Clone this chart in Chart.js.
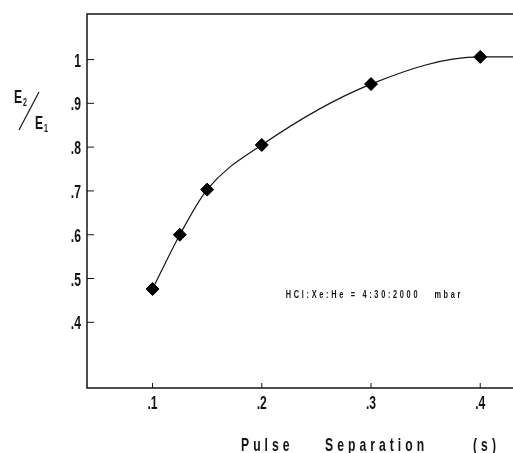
<!DOCTYPE html>
<html>
<head>
<meta charset="utf-8">
<script src="https://cdn.jsdelivr.net/npm/chart.js@4"></script>
<style>
  html, body { margin: 0; padding: 0; background: #fff; }
  #wrap { width: 513px; height: 453px; }
</style>
</head>
<body>
<div id="wrap"><canvas id="chart"></canvas></div>
<script>
// measured points (pulse separation in s, E2/E1)
const separation = [0.1, 0.125, 0.15, 0.2, 0.3, 0.4];
const energyRatio = [0.476, 0.6, 0.703, 0.805, 0.944, 1.006];
// fitted curve levels off after the last point
const curveX = [0.1, 0.125, 0.15, 0.2, 0.3, 0.4, 0.43];
const curveY = [0.476, 0.6, 0.703, 0.805, 0.944, 1.006, 1.006];

const xTicks = [0.1, 0.2, 0.3, 0.4];
const xTickLabels = [".1", ".2", ".3", ".4"];
const yTicks = [0.4, 0.5, 0.6, 0.7, 0.8, 0.9, 1.0];
const yTickLabels = [".4", ".5", ".6", ".7", ".8", ".9", "1"];

const xTitleWords = ["Pulse", "Separation", "(s)"];
const note = "HCl:Xe:He = 4:30:2000   mbar";

const INK = "#141414";

// condensed look: bold Liberation Sans squeezed horizontally
function narrowText(ctx, text, x, y, size, align, spacing) {
  ctx.save();
  ctx.translate(x, y);
  ctx.scale(0.64, 1);
  ctx.font = 'bold ' + size + 'px "Liberation Sans", Arial, sans-serif';
  ctx.letterSpacing = (spacing || 0) + "px";
  ctx.textAlign = align || "left";
  ctx.textBaseline = "alphabetic";
  ctx.fillStyle = INK;
  ctx.fillText(text, 0, 0);
  ctx.restore();
}

const frameAndLabels = {
  id: "frameAndLabels",
  afterDraw(chart) {
    const { ctx, chartArea: a, scales } = chart;
    const xs = scales.x, ys = scales.y;
    ctx.save();
    ctx.strokeStyle = INK;
    ctx.lineWidth = 1.5;
    // frame: top, left, bottom (right edge runs off the picture)
    ctx.beginPath();
    ctx.moveTo(chart.width, a.top);
    ctx.lineTo(a.left, a.top);
    ctx.lineTo(a.left, a.bottom);
    ctx.lineTo(chart.width, a.bottom);
    ctx.stroke();

    // inward tick marks
    ctx.lineWidth = 1;
    ctx.beginPath();
    ys.ticks.forEach(t => {
      const y = ys.getPixelForValue(t.value);
      ctx.moveTo(a.left, y);
      ctx.lineTo(a.left + 7, y);
    });
    xs.ticks.forEach(t => {
      const x = xs.getPixelForValue(t.value);
      ctx.moveTo(x, a.bottom);
      ctx.lineTo(x, a.bottom - 5);
    });
    ctx.stroke();

    // tick labels
    ys.ticks.forEach((t, i) => {
      narrowText(ctx, yTickLabels[i], a.left - 6, ys.getPixelForValue(t.value) + 7, 19, "right");
    });
    xs.ticks.forEach((t, i) => {
      narrowText(ctx, xTickLabels[i], xs.getPixelForValue(t.value), a.bottom + 21, 19, "center");
    });

    // x axis title, letter spaced
    const wordX = [241, 325, 473];
    xTitleWords.forEach((w, i) => narrowText(ctx, w, wordX[i], 451, 19, "left", 6.3));

    // y axis label E2 / E1
    narrowText(ctx, "E", 14, 103, 19);
    narrowText(ctx, "2", 23, 106, 11);
    narrowText(ctx, "E", 35, 129, 19);
    narrowText(ctx, "1", 44, 132, 11);
    ctx.lineWidth = 1.2;
    ctx.beginPath();
    ctx.moveTo(19, 130);
    ctx.lineTo(39, 92);
    ctx.stroke();

    // gas mixture note
    narrowText(ctx, note, xs.getPixelForValue(0.222), ys.getPixelForValue(0.456), 11.5, "left", 4.2);
    ctx.restore();
  }
};

new Chart(document.getElementById("chart"), {
  type: "scatter",
  data: {
    datasets: [
      {
        type: "line",
        data: curveX.map((x, i) => ({ x, y: curveY[i] })),
        borderColor: INK,
        borderWidth: 1.2,
        pointRadius: 0,
        fill: false,
        cubicInterpolationMode: "monotone",
        order: 2
      },
      {
        data: separation.map((x, i) => ({ x, y: energyRatio[i] })),
        pointStyle: "rectRot",
        pointRadius: 6.5,
        backgroundColor: "#000",
        borderColor: "#000",
        borderWidth: 1,
        order: 1
      }
    ]
  },
  options: {
    responsive: true,
    maintainAspectRatio: false,
    animation: false,
    events: [],
    layout: { autoPadding: false, padding: { top: 14, right: 0, left: 0, bottom: 0 } },
    plugins: { legend: { display: false }, tooltip: { enabled: false } },
    scales: {
      x: {
        type: "linear",
        min: 0.04,
        max: 0.43,
        afterBuildTicks: s => { s.ticks = xTicks.map(v => ({ value: v })); },
        afterFit: s => { s.height = 65; s.paddingLeft = 0; s.paddingRight = 0; },
        grid: { display: false, drawTicks: false },
        border: { display: false },
        ticks: { display: false }
      },
      y: {
        type: "linear",
        min: 0.25,
        max: 1.104,
        afterBuildTicks: s => { s.ticks = yTicks.map(v => ({ value: v })); },
        afterFit: s => { s.width = 87; s.paddingTop = 0; s.paddingBottom = 0; },
        grid: { display: false, drawTicks: false },
        border: { display: false },
        ticks: { display: false }
      }
    }
  },
  plugins: [frameAndLabels]
});
</script>
</body>
</html>
